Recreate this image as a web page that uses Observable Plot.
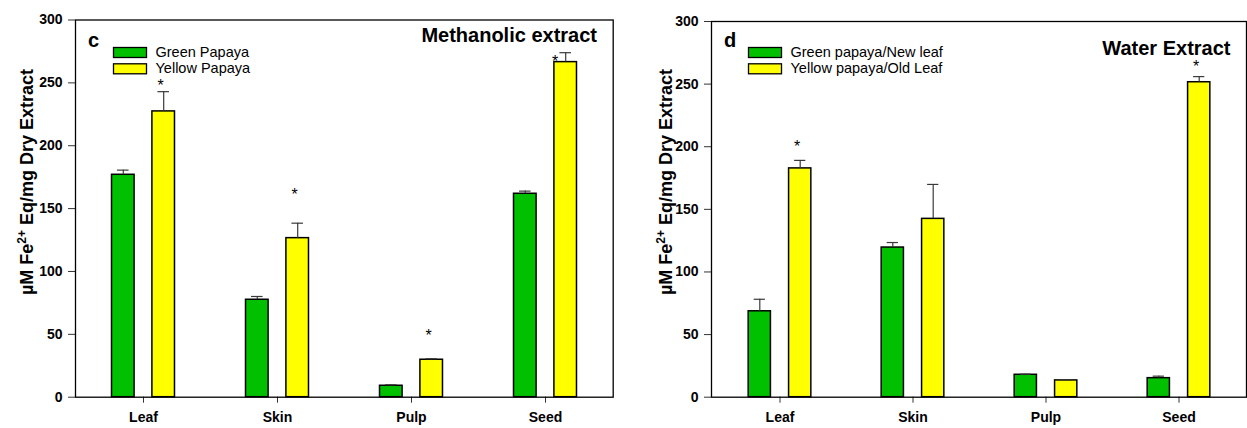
<!DOCTYPE html>
<html>
<head>
<meta charset="utf-8">
<script src="https://cdn.jsdelivr.net/npm/d3@7"></script>
<script src="https://cdn.jsdelivr.net/npm/@observablehq/plot@0.6"></script>
<style>
  html, body { margin: 0; padding: 0; background: white; }
  #wrap { display: flex; flex-direction: row; width: 1247px; height: 428px; }
  svg { display: block; }
</style>
</head>
<body>
<div id="wrap"></div>
<script>
// ---------- data ----------
const categories = ["Leaf", "Skin", "Pulp", "Seed"];
const yTicks = [0, 50, 100, 150, 200, 250, 300];

// Panel c: Methanolic extract
const methGreen = [176.9, 77.5, 9.1, 161.8];
const methGreenErr = [3.7, 2.6, 0.8, 2.1];
const methYellow = [227.3, 126.5, 29.8, 266.5];
const methYellowErr = [15.7, 11.9, 0.8, 7.5];
const methStarCats = ["Leaf", "Skin", "Pulp"];
const methStarY = [250.6, 163.9, 51.7];
const methSeedStarY = [270.2];
const methLegend = ["Green Papaya", "Yellow Papaya"];

// Panel d: Water extract
const waterGreen = [68.6, 119.5, 17.9, 15.2];
const waterGreenErr = [9.6, 4.0, 0.5, 1.6];
const waterYellow = [182.7, 142.4, 13.4, 251.5];
const waterYellowErr = [6.4, 27.5, 0.5, 4.5];
const waterStarCats = ["Leaf", "Seed"];
const waterStarY = [202.7, 266.7];
const waterLegend = ["Green papaya/New leaf", "Yellow papaya/Old Leaf"];

const GREEN = "#00C000";
const YELLOW = "#FFFF00";
const FONT = "'Liberation Sans', Arial, Helvetica, sans-serif";

function rows(vals, errs) {
  return categories.map((c, i) => ({cat: c, value: vals[i], err: errs[i]}));
}

function panel(cfg) {
  const {width, ml, mr, mt, mb, green, greenErr, yellow, yellowErr, stars, extraStars, legend, letter, title, titleX, titleY, legendX, ylabX} = cfg;
  const bw = (width - ml - mr) / categories.length;
  const off = 20.2;
  const inset = bw / 2 - 11.5;
  const capInset = bw / 2 - 6;
  const g = rows(green, greenErr);
  const y = rows(yellow, yellowErr);
  const errMarks = (data, dx) => [
    Plot.ruleX(data, {x: "cat", y1: "value", y2: d => d.value + d.err, dx, stroke: "#3a3a3a", strokeWidth: 1.2}),
    Plot.tickY(data, {x: "cat", y: d => d.value + d.err, dx, insetLeft: capInset, insetRight: capInset, stroke: "#3a3a3a", strokeWidth: 1.2})
  ];
  const svg = Plot.plot({
    width, height: 428,
    marginLeft: ml, marginRight: mr, marginTop: mt, marginBottom: mb,
    style: {fontFamily: FONT, fontSize: "14px", background: "white", color: "black", overflow: "visible"},
    x: {type: "band", domain: categories, padding: 0, axis: null},
    y: {domain: [0, 300], axis: null},
    marks: [
      Plot.barY(g, {x: "cat", y: "value", fill: GREEN, stroke: "black", strokeWidth: 1.5, dx: -off, insetLeft: inset, insetRight: inset}),
      Plot.barY(y, {x: "cat", y: "value", fill: YELLOW, stroke: "black", strokeWidth: 1.5, dx: off, insetLeft: inset, insetRight: inset}),
      ...errMarks(g, -off),
      ...errMarks(y, off),
      Plot.text(stars, {x: "cat", y: "y", text: () => "*", dx: off - 3, dy: 4, fontSize: 16, fill: "black"}),
      ...(extraStars ? [Plot.text(extraStars, {x: "cat", y: "y", text: () => "*", dx: off - 10.5, dy: 4, fontSize: 16, fill: "black"})] : []),
      Plot.axisX({anchor: "bottom", tickSize: 6, tickPadding: 9, fontWeight: "bold", fontSize: 14, label: null, stroke: "#333"}),
      Plot.axisY({anchor: "left", ticks: yTicks, tickSize: 7, tickPadding: 6, fontWeight: "bold", fontSize: 14, label: null, stroke: "#333"}),
      Plot.frame({stroke: "black", strokeWidth: 1.3})
    ]
  });

  const s = d3.select(svg);
  // panel letter
  s.append("text").attr("x", ml + 13).attr("y", 47).attr("text-anchor", "start")
    .attr("font-family", FONT).attr("font-weight", "bold").attr("font-size", 20).attr("fill", "black")
    .text(letter);
  // title
  s.append("text").attr("x", titleX).attr("y", titleY).attr("text-anchor", "end")
    .attr("font-family", FONT).attr("font-weight", "bold").attr("font-size", 20).attr("fill", "black")
    .text(title);
  // legend
  const colors = [GREEN, YELLOW];
  legend.forEach((lab, i) => {
    s.append("rect").attr("x", legendX).attr("y", 47.5 + i * 16.3).attr("width", 33).attr("height", 10)
      .attr("fill", colors[i]).attr("stroke", "black").attr("stroke-width", 1.3);
    s.append("text").attr("x", legendX + 42).attr("y", 57 + i * 16.3).attr("text-anchor", "start")
      .attr("font-family", FONT).attr("font-size", 14.5).attr("fill", "black").text(lab);
  });
  // y label with superscript
  const yl = s.append("text")
    .attr("transform", `translate(${ylabX},182) rotate(-90)`)
    .attr("text-anchor", "middle")
    .attr("font-family", FONT).attr("font-weight", "bold").attr("font-size", 18).attr("fill", "black");
  yl.append("tspan").text("\u00B5M Fe");
  yl.append("tspan").attr("dy", -7).attr("font-size", 12).text("2+");
  yl.append("tspan").attr("dy", 7).text(" Eq/mg Dry Extract");
  return svg;
}

const wrap = document.getElementById("wrap");
wrap.appendChild(panel({
  width: 640, ml: 75, mr: 27.3, mt: 19.5, mb: 31.3,
  green: methGreen, greenErr: methGreenErr, yellow: methYellow, yellowErr: methYellowErr,
  stars: methStarCats.map((c, i) => ({cat: c, y: methStarY[i]})),
  extraStars: [{cat: "Seed", y: methSeedStarY[0]}],
  legend: methLegend, letter: "c", title: "Methanolic extract", titleX: 597, titleY: 42,
  legendX: 113.5, ylabX: 33
}));
wrap.appendChild(panel({
  width: 607, ml: 71, mr: 1, mt: 21, mb: 31.3,
  green: waterGreen, greenErr: waterGreenErr, yellow: waterYellow, yellowErr: waterYellowErr,
  stars: waterStarCats.map((c, i) => ({cat: c, y: waterStarY[i]})),
  extraStars: null,
  legend: waterLegend, letter: "d", title: "Water Extract", titleX: 590.5, titleY: 55,
  legendX: 108.5, ylabX: 31.5
}));
</script>
</body>
</html>
